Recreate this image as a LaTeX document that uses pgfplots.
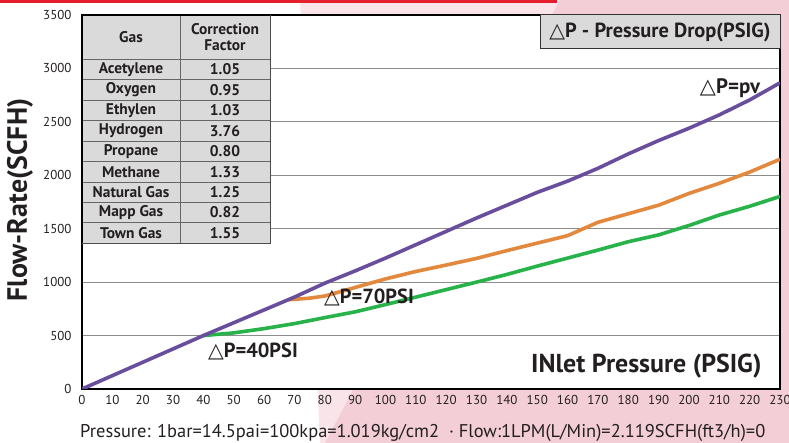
\documentclass[border=0pt]{standalone}
\usepackage{pgfplots}
\pgfplotsset{compat=1.18}
\usepackage{fontspec}
\setmainfont{PT Sans}
\newfontfamily\sym{DejaVu Sans}
\definecolor{cpurple}{RGB}{106,78,158}
\definecolor{corange}{RGB}{226,137,62}
\definecolor{cgreen}{RGB}{40,178,74}
\definecolor{tgray}{RGB}{218,218,218}
\definecolor{bgpink}{RGB}{244,206,214}
\definecolor{topred}{RGB}{228,30,45}
\definecolor{txt}{RGB}{35,31,32}
\newcommand{\dP}{{\sym △}P}

\begin{document}
\begin{tikzpicture}[x=1bp,y=1bp]
\useasboundingbox (0,0) rectangle (789,443);
\clip (0,0) rectangle (789,443);
% background decoration
\fill[bgpink!55] (300,443) -- (560,443) -- (400,0) -- (320,0) -- cycle;
\fill[bgpink] (325,0) -- (789,0) -- (789,443) -- (560,443) -- cycle;
\fill[topred] (0,440) rectangle (557,443);

\begin{axis}[
    at={(82bp,54bp)}, anchor=south west,
    scale only axis, width=698bp, height=374bp,
    xmin=0, xmax=230, ymin=0, ymax=3500,
    xtick={0,10,...,230}, ytick={0,500,...,3500},
    ymajorgrids, major grid style={black!45, line width=0.8bp},
    major tick length=0pt,
    axis line style={black, line width=1.8bp},
    axis background/.style={fill=white},
    tick label style={font=\fontsize{13}{14}\selectfont, text=txt},
    /pgf/number format/assume math mode=true,
    /pgf/number format/1000 sep={},
    xticklabel style={yshift=-3bp},
    yticklabel style={xshift=-7bp},
  ]
  \addplot[cgreen, line width=3.6bp] coordinates {
    (40,500) (50,525) (60,565) (70,612) (80,668) (90,722) (100,790)
    (110,860) (120,930) (130,1000) (140,1072) (150,1150) (160,1225)
    (170,1300) (180,1378) (190,1442) (200,1530) (210,1628) (220,1710) (230,1802)};
  \addplot[corange, line width=3.6bp] coordinates {
    (68,835) (75,850) (80,870) (90,950) (100,1030) (110,1100) (120,1160)
    (130,1222) (140,1295) (150,1365) (160,1435) (170,1560) (180,1640)
    (190,1720) (200,1830) (210,1925) (220,2030) (230,2150)};
  \addplot[cpurple, line width=3.6bp] coordinates {
    (0,0) (10,125) (20,250) (30,375) (40,500) (50,620) (60,740) (70,860)
    (80,990) (90,1105) (100,1225) (110,1350) (120,1475) (130,1600)
    (140,1720) (150,1840) (160,1945) (170,2065) (180,2200) (190,2325)
    (200,2440) (210,2565) (220,2705) (230,2865)};
\end{axis}

% correction factor table
\fill[tgray] (82,199.7) rectangle (270,428);
\foreach \k in {0,...,8}
  \draw[black!60, line width=0.7bp] (82,{383.7-\k*20.44}) -- (270,{383.7-\k*20.44});
\draw[black!60, line width=0.7bp] (180,199.7) -- (180,428);
\draw[black!70, line width=1bp] (82,199.7) -- (270,199.7) -- (270,428);
\draw[black, line width=1.8bp] (82,199.7) -- (82,428) -- (270,428);
\node[font=\bfseries\fontsize{15.5}{16}\selectfont, text=txt] at (131,406) {Gas};
\node[font=\bfseries\fontsize{15.5}{15.5}\selectfont, text=txt, align=center] at (225,406) {Correction\\Factor};
\foreach \g/\v [count=\i] in {Acetylene/1.05, Oxygen/0.95, Ethylen/1.03, Hydrogen/3.76,
    Propane/0.80, Methane/1.33, Natural Gas/1.25, Mapp Gas/0.82, Town Gas/1.55} {
  \node[font=\bfseries\fontsize{15.5}{16}\selectfont, text=txt] at (131,{383.7-(\i-0.5)*20.44}) {\g};
  \node[font=\bfseries\fontsize{15.5}{16}\selectfont, text=txt] at (225,{383.7-(\i-0.5)*20.44}) {\v};
}

% pressure drop box
\draw[fill=tgray, draw=black!80, line width=1bp] (540,394.7) rectangle (780,428);
\node[font=\bfseries\fontsize{20.5}{21}\selectfont, text=txt] at (660,411) {\dP\ - Pressure Drop(PSIG)};

% curve labels
\node[font=\bfseries\fontsize{21}{22}\selectfont, text=txt] at (730,355) {\dP=pv};
\node[font=\bfseries\fontsize{20.5}{22}\selectfont, text=txt] at (369,145.5) {\dP=70PSI};
\node[font=\bfseries\fontsize{20.5}{22}\selectfont, text=txt] at (253,92) {\dP=40PSI};
\node[font=\bfseries\fontsize{26}{27}\selectfont, text=txt, anchor=east] at (765,77) {INlet Pressure (PSIG)};

% axis title and footnote
\node[font=\bfseries\fontsize{28}{29}\selectfont, text=txt, rotate=90] at (20,243) {Flow-Rate(SCFH)};
\node[font=\fontsize{18.5}{19}\selectfont, text=txt, anchor=west, inner sep=0pt] at (80,10)
  {Pressure: 1bar=14.5pai=100kpa=1.019kg/cm2 \ · Flow:1LPM(L/Min)=2.119SCFH(ft3/h)=0};
\end{tikzpicture}
\end{document}
